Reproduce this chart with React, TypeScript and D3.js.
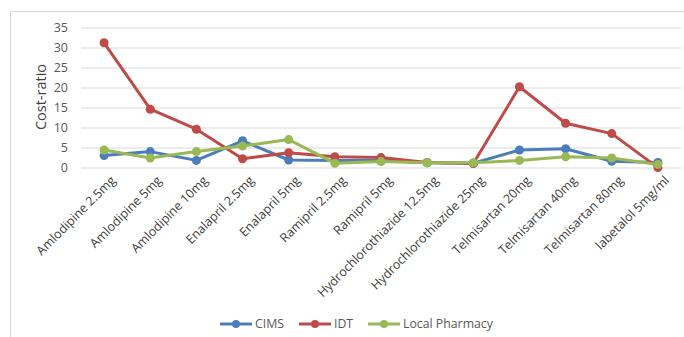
import React from "react";
import * as d3 from "d3";

const categories = [
  "Amlodipine 2.5mg",
  "Amlodipine 5mg",
  "Amlodipine 10mg",
  "Enalapril 2.5mg",
  "Enalapril 5mg",
  "Ramipril 2.5mg",
  "Ramipril 5mg",
  "Hydrochlorothiazide 12.5mg",
  "Hydrochlorothiazide 25mg",
  "Telmisartan 20mg",
  "Telmisartan 40mg",
  "Telmisartan 80mg",
  "labetalol 5mg/ml",
];

const cims = [3.1, 4.1, 1.9, 6.8, 2.0, 1.9, 1.9, 1.3, 1.2, 4.5, 4.8, 1.7, 1.4];
const idt = [31.3, 14.7, 9.7, 2.3, 3.8, 2.8, 2.6, 1.4, 1.1, 20.3, 11.2, 8.6, 0.1];
const localPharmacy = [4.5, 2.5, 4.1, 5.5, 7.1, 1.2, 1.6, 1.3, 1.3, 1.9, 2.8, 2.5, 0.9];

const yTicks = [0, 5, 10, 15, 20, 25, 30, 35];

const seriesList = [
  { name: "CIMS", values: cims, color: "#4a7ebb" },
  { name: "IDT", values: idt, color: "#be4b48" },
  { name: "Local Pharmacy", values: localPharmacy, color: "#98b954" },
];

const W = 684;
const H = 337;
const FONT = "'Open Sans', 'Liberation Sans', sans-serif";

export default function App() {
  const x = d3
    .scaleBand<string>()
    .domain(categories)
    .range([81, 681]);
  const y = d3.scaleLinear().domain([0, 35]).range([168, 28]);
  const cx = (c: string) => (x(c) as number) + x.bandwidth() / 2;

  const line = d3
    .line<number>()
    .x((_, i) => cx(categories[i]))
    .y((d) => y(d));

  const legendItems = [
    { x: 220, ...seriesList[0] },
    { x: 299, ...seriesList[1] },
    { x: 368, ...seriesList[2] },
  ];

  return (
    <svg
      width={W}
      height={H}
      style={{ position: "absolute", left: 0, top: 0, background: "#fff" }}
      fontFamily={FONT}
    >
      <rect x={10.5} y={11.5} width={W} height={H} fill="#fff" stroke="#d9d9d9" strokeWidth={1} />

      {yTicks.map((t) => (
        <g key={t}>
          <line x1={81} x2={681} y1={y(t)} y2={y(t)} stroke="#d9d9d9" strokeWidth={1.2} />
          <text x={68} y={y(t)} dy="0.35em" textAnchor="end" fontSize={12.5} fill="#595959">
            {t}
          </text>
        </g>
      ))}

      <text
        transform={`translate(41,${(y(0) + y(35)) / 2 - 1}) rotate(-90)`}
        textAnchor="middle"
        dy="0.35em"
        fontSize={14.5}
        fill="#404040"
      >
        Cost-ratio
      </text>

      {categories.map((c) => (
        <text
          key={c}
          transform={`translate(${cx(c) + 6},${175}) rotate(-45)`}
          textAnchor="end"
          dy="0.7em"
          fontSize={12.5}
          fill="#404040"
        >
          {c}
        </text>
      ))}

      {seriesList.map((s) => (
        <g key={s.name}>
          <path d={line(s.values) || ""} fill="none" stroke={s.color} strokeWidth={3} strokeLinejoin="round" />
          {s.values.map((v, i) => (
            <circle key={i} cx={cx(categories[i])} cy={y(v)} r={4.5} fill={s.color} />
          ))}
        </g>
      ))}

      {legendItems.map((it) => (
        <g key={it.name}>
          <line x1={it.x} x2={it.x + 32} y1={324} y2={324} stroke={it.color} strokeWidth={3} />
          <circle cx={it.x + 16} cy={324} r={4} fill={it.color} />
          <text x={it.x + 35} y={324} dy="0.35em" fontSize={12.3} fill="#595959">
            {it.name}
          </text>
        </g>
      ))}
    </svg>
  );
}
